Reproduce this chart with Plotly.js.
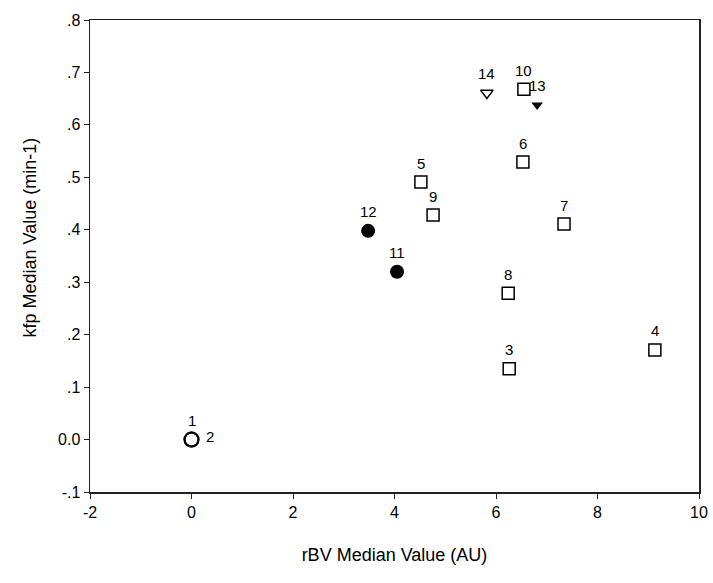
<!DOCTYPE html>
<html>
<head>
<meta charset="utf-8">
<script src="https://cdn.plot.ly/plotly-3.0.1.min.js"></script>
<style>html,body{margin:0;padding:0;background:#fff;}#chart{width:713px;height:583px;}</style>
</head>
<body>
<div id="chart"></div>
<script>
// Data (rBV median, kfp median)
var openCircleLabels = ["1", "2"];
var openCircleX = [0.0, 0.0];
var openCircleY = [0.0, 0.0];

var filledCircleLabels = ["12", "11"];
var filledCircleX = [3.48, 4.05];
var filledCircleY = [0.398, 0.32];

var squareLabels = ["5", "9", "10", "6", "7", "8", "3", "4"];
var squareX = [4.52, 4.76, 6.55, 6.53, 7.34, 6.24, 6.26, 9.13];
var squareY = [0.491, 0.428, 0.668, 0.529, 0.411, 0.279, 0.135, 0.171];

var openTriLabels = ["14"];
var openTriX = [5.82];
var openTriY = [0.661];

var filledTriLabels = ["13"];
var filledTriX = [6.81];
var filledTriY = [0.638];

var xTickVals = [-2, 0, 2, 4, 6, 8, 10];
var yTickVals = [-0.1, 0.0, 0.1, 0.2, 0.3, 0.4, 0.5, 0.6, 0.7, 0.8];
var yTickText = ["-.1", "0.0", ".1", ".2", ".3", ".4", ".5", ".6", ".7", ".8"];

var xTitle = "rBV Median Value (AU)";
var yTitle = "kfp Median Value (min-1)";

var FONT = "Liberation Sans, Arial, Helvetica, sans-serif";

var traces = [
  {x: openCircleX, y: openCircleY, mode: "markers", type: "scatter",
   marker: {symbol: "circle-open", size: 14, color: "#000", line: {width: 2, color: "#000"}}},
  {x: filledCircleX, y: filledCircleY, mode: "markers", type: "scatter",
   marker: {symbol: "circle", size: 14, color: "#000"}},
  {x: squareX, y: squareY, mode: "markers", type: "scatter",
   marker: {symbol: "square-open", size: 12, color: "#000", line: {width: 1.5, color: "#000"}}},
  {x: openTriX, y: openTriY, mode: "markers", type: "scatter",
   marker: {symbol: "triangle-down-open", size: 11, color: "#000", line: {width: 1.5, color: "#000"}}},
  {x: filledTriX, y: filledTriY, mode: "markers", type: "scatter",
   marker: {symbol: "triangle-down", size: 10, color: "#000"}}
];

// label placement (style, not data): default above; point "2" to the right
var labelShift = {"2": [18, 3]};
var annotations = [];
function addLabels(xs, ys, labels) {
  for (var i = 0; i < labels.length; i++) {
    var s = labelShift[labels[i]] || [0, 19];
    annotations.push({x: xs[i], y: ys[i], text: labels[i], showarrow: false,
      xshift: s[0], yshift: s[1], font: {family: FONT, size: 15, color: "#000"}});
  }
}
addLabels(openCircleX, openCircleY, openCircleLabels);
addLabels(filledCircleX, filledCircleY, filledCircleLabels);
addLabels(squareX, squareY, squareLabels);
addLabels(openTriX, openTriY, openTriLabels);
addLabels(filledTriX, filledTriY, filledTriLabels);

// y-axis title placed as a rotated annotation (sits slightly above centre in the reference)
annotations.push({xref: "paper", yref: "paper", x: -0.098, y: 0.54, xanchor: "center", yanchor: "middle",
  text: yTitle, textangle: -90, showarrow: false, font: {family: FONT, size: 18, color: "#000"}});

var layout = {
  width: 713, height: 583,
  margin: {l: 90, r: 14, t: 20, b: 91},
  paper_bgcolor: "#fff", plot_bgcolor: "#fff",
  showlegend: false,
  font: {family: FONT, color: "#000"},
  xaxis: {
    range: [-2, 10], tickvals: xTickVals, ticktext: xTickVals.map(String),
    showgrid: false, zeroline: false, showline: true, mirror: true,
    linecolor: "#222", linewidth: 1.5, ticks: "outside", ticklen: 5, tickcolor: "#222",
    tickfont: {family: FONT, size: 16, color: "#000"},
    title: {text: xTitle, font: {family: FONT, size: 18, color: "#000"}, standoff: 28}
  },
  yaxis: {
    range: [-0.1, 0.8], tickvals: yTickVals, ticktext: yTickText,
    showgrid: false, zeroline: false, showline: true, mirror: true,
    linecolor: "#222", linewidth: 1.5, ticks: "outside", ticklen: 5, tickcolor: "#222",
    tickfont: {family: FONT, size: 16, color: "#000"}
  },
  annotations: annotations
};

Plotly.newPlot("chart", traces, layout, {staticPlot: true, displayModeBar: false});
</script>
</body>
</html>
